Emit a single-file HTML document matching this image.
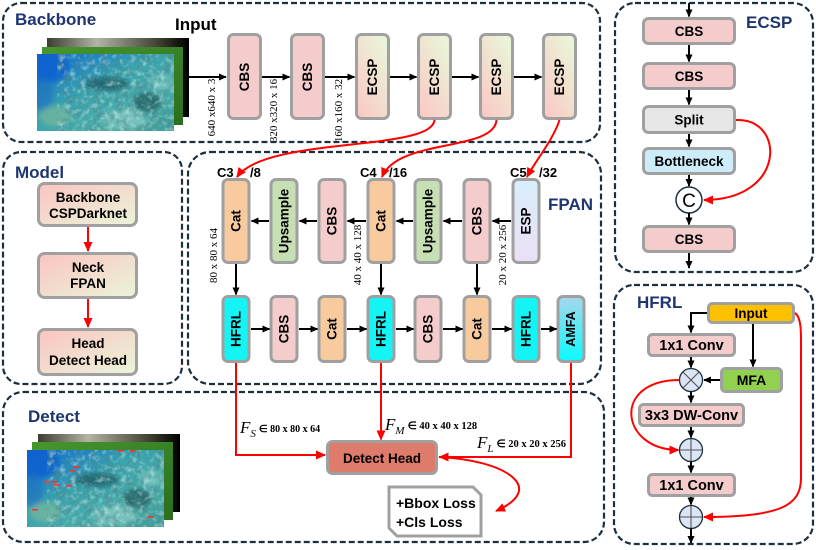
<!DOCTYPE html>
<html><head><meta charset="utf-8"><style>
html,body{margin:0;padding:0;background:#fff;}
svg{display:block;}
</style></head><body>
<svg width="816" height="550" viewBox="0 0 816 550" xmlns="http://www.w3.org/2000/svg" xmlns:xlink="http://www.w3.org/1999/xlink" font-family="'Liberation Sans', Arial, sans-serif">
<defs>
<marker id="ab" viewBox="0 0 10 10" refX="9" refY="5" markerWidth="8" markerHeight="8" markerUnits="userSpaceOnUse" orient="auto"><path d="M0,0.5 L10,5 L0,9.5 z" fill="#000"/></marker>
<marker id="ar" viewBox="0 0 10 10" refX="9" refY="5" markerWidth="10" markerHeight="10" markerUnits="userSpaceOnUse" orient="auto"><path d="M0,0.5 L10,5 L0,9.5 z" fill="#f00"/></marker>
<linearGradient id="gE" x1="0" y1="1" x2="0.7" y2="0"><stop offset="0" stop-color="#fcc6c2"/><stop offset="1" stop-color="#e9f4d8"/></linearGradient>
<linearGradient id="gM" x1="0" y1="0" x2="1" y2="1"><stop offset="0" stop-color="#fbc4c0"/><stop offset="1" stop-color="#eaf5da"/></linearGradient>
<linearGradient id="gS" x1="0" y1="0" x2="0" y2="1"><stop offset="0" stop-color="#d9eefa"/><stop offset="1" stop-color="#eae0f6"/></linearGradient>
<linearGradient id="gA" x1="0" y1="0" x2="0" y2="1"><stop offset="0" stop-color="#a9d6ec"/><stop offset="1" stop-color="#08fbff"/></linearGradient>
<linearGradient id="gPh" x1="0" y1="0" x2="1" y2="1"><stop offset="0" stop-color="#0b64cc"/><stop offset="0.2" stop-color="#1f82c4"/><stop offset="0.42" stop-color="#38a2ad"/><stop offset="0.7" stop-color="#4aaeaa"/><stop offset="1" stop-color="#3c9c98"/></linearGradient>
<linearGradient id="gBk" x1="0" y1="0" x2="1" y2="0"><stop offset="0" stop-color="#3c3c30"/><stop offset="0.35" stop-color="#b4b4a4"/><stop offset="0.75" stop-color="#4a4a3a"/><stop offset="1" stop-color="#000"/></linearGradient>
<linearGradient id="gGr" x1="0" y1="0" x2="1" y2="1"><stop offset="0" stop-color="#47972f"/><stop offset="1" stop-color="#2c6d1f"/></linearGradient>
<filter id="bl" x="-20%" y="-20%" width="140%" height="140%"><feGaussianBlur stdDeviation="2.5"/></filter>
<filter id="txd" x="0" y="0" width="100%" height="100%"><feTurbulence type="fractalNoise" baseFrequency="0.14" numOctaves="3" seed="4"/><feColorMatrix type="matrix" values="0 0 0 0 0.07  0 0 0 0 0.24  0 0 0 0 0.27  3 0 0 0 -1.3"/></filter>
<filter id="txl" x="0" y="0" width="100%" height="100%"><feTurbulence type="fractalNoise" baseFrequency="0.18" numOctaves="3" seed="11"/><feColorMatrix type="matrix" values="0 0 0 0 0.62  0 0 0 0 0.86  0 0 0 0 0.83  0 3 0 0 -1.45"/></filter>
<clipPath id="pc"><rect width="137" height="77"/></clipPath>
<g id="ph" clip-path="url(#pc)">
  <rect width="137" height="77" fill="url(#gPh)"/>
  <g filter="url(#bl)">
    <ellipse cx="10" cy="12" rx="22" ry="16" fill="#0a62cf" opacity=".9"/>
    <ellipse cx="6" cy="40" rx="10" ry="18" fill="#1a70c0" opacity=".6"/>
    <ellipse cx="70" cy="30" rx="22" ry="7" fill="#14454e" opacity=".6"/>
    <ellipse cx="110" cy="48" rx="14" ry="10" fill="#17444c" opacity=".6"/>
    <ellipse cx="124" cy="28" rx="12" ry="9" fill="#90d2cc" opacity=".5"/>
    <ellipse cx="88" cy="66" rx="22" ry="10" fill="#a6dad2" opacity=".5"/>
    <ellipse cx="18" cy="62" rx="16" ry="10" fill="#86bb98" opacity=".6"/>
  </g>
  <rect x="20" width="117" height="77" filter="url(#txd)" opacity=".55"/>
  <rect x="20" width="117" height="77" filter="url(#txl)" opacity=".5"/>
</g>
</defs>

<!-- ===== Panels ===== -->
<g fill="none" stroke="#1c2f3d" stroke-width="2.2" stroke-dasharray="6 3">
  <rect x="3" y="3" width="597" height="139" rx="18"/>
  <rect x="3" y="152" width="179" height="232" rx="18"/>
  <rect x="188" y="152" width="413" height="232" rx="22"/>
  <rect x="3" y="392" width="601" height="150" rx="20"/>
  <rect x="615" y="3" width="198" height="269" rx="20"/>
  <rect x="614" y="285" width="199" height="259" rx="20"/>
</g>

<!-- titles -->
<g font-weight="bold" font-size="17" fill="#1f3570">
  <text x="15" y="25">Backbone</text>
  <text x="15" y="178">Model</text>
  <text x="548" y="210">FPAN</text>
  <text x="28" y="422">Detect</text>
  <text x="746" y="28">ECSP</text>
  <text x="637" y="308">HFRL</text>
</g>
<text x="175" y="30" font-weight="bold" font-size="17" fill="#000">Input</text>

<!-- ===== Backbone ===== -->
<rect x="47" y="38" width="142" height="79" fill="url(#gBk)"/>
<rect x="42" y="47" width="141" height="78" fill="url(#gGr)"/>
<use xlink:href="#ph" href="#ph" x="37" y="54"/>

<g stroke="#a0a0a0" stroke-width="3">
  <rect x="228.5" y="34.5" width="32" height="84" rx="5" fill="#f4cccc"/>
  <rect x="291.5" y="34.5" width="32" height="84" rx="5" fill="#f4cccc"/>
  <rect x="356.5" y="34.5" width="32" height="84" rx="5" fill="url(#gE)"/>
  <rect x="418.5" y="34.5" width="32" height="84" rx="5" fill="url(#gE)"/>
  <rect x="480.5" y="34.5" width="32" height="84" rx="5" fill="url(#gE)"/>
  <rect x="543.5" y="34.5" width="32" height="84" rx="5" fill="url(#gE)"/>
</g>
<g font-weight="bold" font-size="13.5" text-anchor="middle" dominant-baseline="central" fill="#000">
  <text transform="translate(244.5,77) rotate(-90)">CBS</text>
  <text transform="translate(307.5,77) rotate(-90)">CBS</text>
  <text transform="translate(372.5,77) rotate(-90)">ECSP</text>
  <text transform="translate(434.5,77) rotate(-90)">ECSP</text>
  <text transform="translate(496.5,77) rotate(-90)">ECSP</text>
  <text transform="translate(559.5,77) rotate(-90)">ECSP</text>
</g>
<g stroke="#000" stroke-width="2" fill="none" marker-end="url(#ab)">
  <path d="M189,77 H226"/>
  <path d="M262,77 H289.5"/>
  <path d="M325,77 H354.5"/>
  <path d="M390,77 H416.5"/>
  <path d="M452,77 H478.5"/>
  <path d="M514,77 H541.5"/>
</g>
<g font-family="'Liberation Serif', 'Times New Roman', serif" font-size="11" text-anchor="middle" dominant-baseline="central" fill="#000">
  <text transform="translate(212,107.5) rotate(-90)">640 x640 x 3</text>
  <text transform="translate(274,110.5) rotate(-90)">320 x320 x 16</text>
  <text transform="translate(339,110.5) rotate(-90)">160 x160 x 32</text>
</g>

<!-- ===== Model ===== -->
<g stroke="#a0a0a0" stroke-width="3" fill="url(#gM)">
  <rect x="38.5" y="183.5" width="98" height="42" rx="6"/>
  <rect x="38.5" y="253.5" width="98" height="44" rx="6"/>
  <rect x="38.5" y="329.5" width="98" height="45" rx="6"/>
</g>
<g font-weight="bold" font-size="13.5" text-anchor="middle" fill="#000">
  <text x="88" y="202">Backbone</text>
  <text x="88" y="218">CSPDarknet</text>
  <text x="88" y="272">Neck</text>
  <text x="88" y="288">FPAN</text>
  <text x="88" y="348">Head</text>
  <text x="88" y="365">Detect Head</text>
</g>
<g stroke="#f00" stroke-width="2" fill="none" marker-end="url(#ar)">
  <path d="M88,227 V251"/>
  <path d="M88,299 V327"/>
</g>

<!-- ===== FPAN ===== -->
<g stroke="#a0a0a0" stroke-width="3">
  <rect x="223" y="179.5" width="26" height="83" rx="5" fill="#f8cb9f"/>
  <rect x="271" y="179.5" width="26" height="83" rx="5" fill="#c6dfb3"/>
  <rect x="319" y="179.5" width="26" height="83" rx="5" fill="#f4cccc"/>
  <rect x="368" y="179.5" width="26" height="83" rx="5" fill="#f8cb9f"/>
  <rect x="415" y="179.5" width="26" height="83" rx="5" fill="#c6dfb3"/>
  <rect x="464" y="179.5" width="26" height="83" rx="5" fill="#f4cccc"/>
  <rect x="513" y="179.5" width="26" height="83" rx="5" fill="url(#gS)"/>

  <rect x="223" y="296.5" width="26" height="65" rx="5" fill="#14f4f4"/>
  <rect x="271" y="296.5" width="26" height="65" rx="5" fill="#f4cccc"/>
  <rect x="319" y="296.5" width="26" height="65" rx="5" fill="#f8cb9f"/>
  <rect x="368" y="296.5" width="26" height="65" rx="5" fill="#14f4f4"/>
  <rect x="415" y="296.5" width="26" height="65" rx="5" fill="#f4cccc"/>
  <rect x="464" y="296.5" width="26" height="65" rx="5" fill="#f8cb9f"/>
  <rect x="513" y="296.5" width="26" height="65" rx="5" fill="#14f4f4"/>
  <rect x="558" y="296.5" width="26" height="65" rx="5" fill="url(#gA)"/>
</g>
<g font-weight="bold" font-size="13.5" text-anchor="middle" dominant-baseline="central" fill="#000">
  <text transform="translate(236,221) rotate(-90)">Cat</text>
  <text transform="translate(284,221) rotate(-90)">Upsample</text>
  <text transform="translate(332,221) rotate(-90)">CBS</text>
  <text transform="translate(381,221) rotate(-90)">Cat</text>
  <text transform="translate(428,221) rotate(-90)">Upsample</text>
  <text transform="translate(477,221) rotate(-90)">CBS</text>
  <text transform="translate(526,221) rotate(-90)">ESP</text>
  <text transform="translate(236,329) rotate(-90)">HFRL</text>
  <text transform="translate(284,329) rotate(-90)">CBS</text>
  <text transform="translate(332,329) rotate(-90)">Cat</text>
  <text transform="translate(381,329) rotate(-90)">HFRL</text>
  <text transform="translate(428,329) rotate(-90)">CBS</text>
  <text transform="translate(477,329) rotate(-90)">Cat</text>
  <text transform="translate(526,329) rotate(-90)">HFRL</text>
  <text transform="translate(571,329) rotate(-90)" font-size="12.5">AMFA</text>
</g>
<g font-weight="bold" font-size="13" fill="#000">
  <text x="217" y="177">C3</text><text x="250" y="177">/8</text>
  <text x="360" y="177">C4</text><text x="389" y="177">/16</text>
  <text x="510" y="177">C5</text><text x="539" y="177">/32</text>
</g>
<g stroke="#000" stroke-width="2" fill="none" marker-end="url(#ab)">
  <path d="M511,221 H492.5"/>
  <path d="M462,221 H443.5"/>
  <path d="M413,221 H396.5"/>
  <path d="M366,221 H347.5"/>
  <path d="M317,221 H299.5"/>
  <path d="M269,221 H251.5"/>
  <path d="M251,329 H269.5"/>
  <path d="M299,329 H317.5"/>
  <path d="M347,329 H366.5"/>
  <path d="M396,329 H413.5"/>
  <path d="M443,329 H462.5"/>
  <path d="M492,329 H511.5"/>
  <path d="M541,329 H556.5"/>
  <path d="M236,264 V294.5"/>
  <path d="M381,264 V294.5"/>
  <path d="M477,264 V294.5"/>
</g>
<g font-family="'Liberation Serif', 'Times New Roman', serif" font-size="11" text-anchor="middle" dominant-baseline="central" fill="#000">
  <text transform="translate(214,255.5) rotate(-90)">80 x 80 x 64</text>
  <text transform="translate(358,255) rotate(-90)">40 x 40 x 128</text>
  <text transform="translate(503,255) rotate(-90)">20 x 20 x 256</text>
</g>

<!-- red connectors backbone -> FPAN -->
<g stroke="#f00" stroke-width="2" fill="none" marker-end="url(#ar)">
  <path d="M434.5,120 C432,152 266,136 237,177"/>
  <path d="M496.5,120 C494,152 398,138 382,177"/>
  <path d="M559.5,120 C553,140 536,160 527,177"/>
</g>

<!-- ===== Detect ===== -->
<rect x="38" y="434" width="142" height="78" fill="url(#gBk)"/>
<rect x="32" y="442" width="141" height="78" fill="url(#gGr)"/>
<use xlink:href="#ph" href="#ph" x="27" y="450"/>
<g fill="#ff3030">
  <rect x="118" y="450" width="6" height="1.6"/>
  <rect x="130" y="450" width="6" height="1.6"/>
  <rect x="73" y="466" width="7" height="1.6"/>
  <rect x="69" y="470" width="6" height="1.6"/>
  <rect x="43" y="481" width="6" height="1.6"/>
  <rect x="52" y="481" width="6" height="1.6"/>
  <rect x="54" y="484" width="6" height="1.6"/>
  <rect x="66" y="485" width="6" height="1.6"/>
  <rect x="32" y="509" width="6" height="1.6"/>
  <rect x="148" y="516" width="6" height="1.6"/>
</g>

<rect x="327.5" y="441.5" width="109" height="32" rx="5" fill="#de7b6b" stroke="#a0a0a0" stroke-width="3"/>
<text x="382" y="463" text-anchor="middle" font-weight="bold" font-size="13.5" fill="#000">Detect Head</text>

<path d="M389,487 H473 L481,495 V536 H397 L389,528 Z" fill="#fff" stroke="#a0a0a0" stroke-width="3"/>
<g font-weight="bold" font-size="14" fill="#000">
  <text x="396" y="508">+Bbox Loss</text>
  <text x="396" y="527">+Cls Loss</text>
</g>

<g stroke="#f00" stroke-width="2" fill="none" marker-end="url(#ar)">
  <path d="M236,363 V455 H325"/>
  <path d="M381,363 V439.5"/>
  <path d="M571,363 V457 H439.5"/>
  <path d="M439,457 C505,460 548,488 496,511"/>
</g>

<g font-family="'Liberation Serif', 'Times New Roman', serif" fill="#000">
  <text x="240" y="433"><tspan font-style="italic" font-size="17">F</tspan><tspan font-style="italic" font-size="11" dy="4">S</tspan><tspan font-size="10" font-weight="bold" dy="-5" dx="3">∈ 80 x 80 x 64</tspan></text>
  <text x="385" y="430"><tspan font-style="italic" font-size="17">F</tspan><tspan font-style="italic" font-size="11" dy="4">M</tspan><tspan font-size="10.5" font-weight="bold" dy="-5" dx="3">∈ 40 x 40 x 128</tspan></text>
  <text x="477" y="448"><tspan font-style="italic" font-size="17">F</tspan><tspan font-style="italic" font-size="11" dy="4">L</tspan><tspan font-size="10.5" font-weight="bold" dy="-5" dx="3">∈ 20 x 20 x 256</tspan></text>
</g>

<!-- ===== ECSP ===== -->
<g stroke="#a0a0a0" stroke-width="3">
  <rect x="643.5" y="18.5" width="91" height="25" rx="5" fill="#f4cccc"/>
  <rect x="643.5" y="63.5" width="91" height="25" rx="5" fill="#f4cccc"/>
  <rect x="643.5" y="106.5" width="91" height="26" rx="5" fill="#e6e6e6"/>
  <rect x="643.5" y="148.5" width="91" height="25" rx="5" fill="#ccecf9"/>
  <rect x="643.5" y="226.5" width="91" height="25" rx="5" fill="#f4cccc"/>
</g>
<circle cx="689" cy="200" r="13" fill="#fff" stroke="#1c2f3d" stroke-width="1.5"/>
<text x="689" y="207" text-anchor="middle" font-size="19" fill="#000">C</text>
<g font-weight="bold" font-size="13.5" text-anchor="middle" fill="#000">
  <text x="689" y="36">CBS</text>
  <text x="689" y="81">CBS</text>
  <text x="689" y="124.5">Split</text>
  <text x="689" y="166">Bottleneck</text>
  <text x="689" y="244">CBS</text>
</g>
<g stroke="#000" stroke-width="2" fill="none" marker-end="url(#ab)">
  <path d="M689,3 V16.5"/>
  <path d="M689,45 V61.5"/>
  <path d="M689,90 V104.5"/>
  <path d="M689,134 V146.5"/>
  <path d="M689,175 V186"/>
  <path d="M689,213 V224.5"/>
  <path d="M689,253 V268"/>
</g>
<path d="M736,120 C786,118 786,200 704,200" stroke="#f00" stroke-width="2" fill="none" marker-end="url(#ar)"/>

<!-- ===== HFRL ===== -->
<g stroke="#a0a0a0" stroke-width="3">
  <rect x="708.5" y="303.5" width="85" height="19" rx="4" fill="#ffc000"/>
  <rect x="648.5" y="334.5" width="86" height="21" rx="4" fill="#f4cccc"/>
  <rect x="721.5" y="368.5" width="60" height="23" rx="4" fill="#92d050"/>
  <rect x="639.5" y="404.5" width="104" height="21" rx="4" fill="#f4cccc"/>
  <rect x="648.5" y="474.5" width="86" height="21" rx="4" fill="#f4cccc"/>
</g>
<g font-weight="bold" text-anchor="middle" fill="#000">
  <text x="751" y="318" font-size="13.5">Input</text>
  <text x="691.5" y="350" font-size="14.5">1x1 Conv</text>
  <text x="751.5" y="385" font-size="14">MFA</text>
  <text x="691.5" y="420" font-size="14.5">3x3 DW-Conv</text>
  <text x="691.5" y="490" font-size="14.5">1x1 Conv</text>
</g>
<g stroke="#1c2f3d" stroke-width="1.3" fill="#dbe5f5">
  <circle cx="691" cy="380" r="11.5"/>
  <circle cx="691" cy="450" r="11.5"/>
  <circle cx="691" cy="517" r="11.5"/>
</g>
<g stroke="#555" stroke-width="1.1">
  <path d="M683,372 L699,388 M699,372 L683,388"/>
  <path d="M680,450 H702 M691,439 V461"/>
  <path d="M680,517 H702 M691,506 V528"/>
</g>
<g stroke="#000" stroke-width="2" fill="none" marker-end="url(#ab)">
  <path d="M707,313 H691 V332.5"/>
  <path d="M753,324 V366.5"/>
  <path d="M720,380 H704"/>
  <path d="M691,357 V367.5"/>
  <path d="M691,391.5 V402.5"/>
  <path d="M691,427 V437.5"/>
  <path d="M691,461.5 V472.5"/>
  <path d="M691,497 V504.5"/>
  <path d="M691,528.5 V543"/>
</g>
<g stroke="#f00" stroke-width="2" fill="none" marker-end="url(#ar)">
  <path d="M679.5,380 C611,380 620,450 678.5,450"/>
  <path d="M795,313 C802,318 801,335 801,355 V478 C801,505 782,517 704,517"/>
</g>
</svg>
</body></html>
